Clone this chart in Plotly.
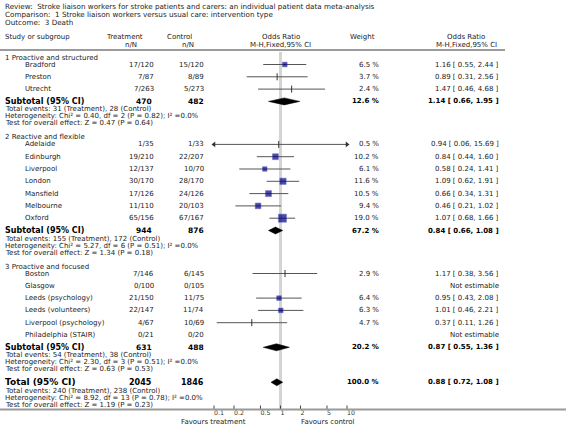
import math
import plotly.graph_objects as go

W, H = 566, 431

# ---------------- data ----------------
title_lines = [
    "Review:  Stroke liaison workers for stroke patients and carers: an individual patient data meta-analysis",
    "Comparison:  1 Stroke liaison workers versus usual care: intervention type",
    "Outcome:  3 Death",
]

group_names = ["1 Proactive and structured", "2 Reactive and flexible", "3 Proactive and focused"]

g1_studies = ["Bradford", "Preston", "Utrecht"]
g1_treat = ["17/120", "7/87", "7/263"]
g1_ctrl = ["15/120", "8/89", "5/273"]
g1_weight = [6.5, 3.7, 2.4]
g1_or = [1.16, 0.89, 1.47]
g1_lo = [0.55, 0.31, 0.46]
g1_hi = [2.44, 2.56, 4.68]

g2_studies = ["Adelaide", "Edinburgh", "Liverpool", "London", "Mansfield", "Melbourne", "Oxford"]
g2_treat = ["1/35", "19/210", "12/137", "30/170", "17/126", "11/110", "65/156"]
g2_ctrl = ["1/33", "22/207", "10/70", "28/170", "24/126", "20/103", "67/167"]
g2_weight = [0.5, 10.2, 6.1, 11.6, 10.5, 9.4, 19.0]
g2_or = [0.94, 0.84, 0.58, 1.09, 0.66, 0.46, 1.07]
g2_lo = [0.06, 0.44, 0.24, 0.62, 0.34, 0.21, 0.68]
g2_hi = [15.69, 1.60, 1.41, 1.91, 1.31, 1.02, 1.66]

g3_studies = ["Boston", "Glasgow", "Leeds (psychology)", "Leeds (volunteers)", "Liverpool (psychology)", "Philadelphia (STAIR)"]
g3_treat = ["7/146", "0/100", "21/150", "22/147", "4/67", "0/21"]
g3_ctrl = ["6/145", "0/105", "11/75", "11/74", "10/69", "0/20"]
g3_weight = [2.9, None, 6.4, 6.3, 4.7, None]
g3_or = [1.17, None, 0.95, 1.01, 0.37, None]
g3_lo = [0.38, None, 0.43, 0.46, 0.11, None]
g3_hi = [3.56, None, 2.08, 2.21, 1.26, None]

sub_n_treat = [470, 944, 631]
sub_n_ctrl = [482, 876, 488]
sub_weight = [12.6, 67.2, 20.2]
sub_or = [1.14, 0.84, 0.87]
sub_lo = [0.66, 0.66, 0.55]
sub_hi = [1.95, 1.08, 1.36]
sub_ev_treat = [31, 155, 54]
sub_ev_ctrl = [28, 172, 38]
sub_chi2 = [0.40, 5.27, 2.30]
sub_df = [2, 6, 3]
sub_p_het = [0.82, 0.51, 0.51]
sub_i2 = [0.0, 0.0, 0.0]
sub_z = [0.47, 1.34, 0.63]
sub_p_z = [0.64, 0.18, 0.53]

tot_n_treat = 2045
tot_n_ctrl = 1846
tot_weight = 100.0
tot_or = 0.88
tot_lo = 0.72
tot_hi = 1.08
tot_ev_treat = 240
tot_ev_ctrl = 238
tot_chi2 = 8.92
tot_df = 13
tot_p_het = 0.78
tot_i2 = 0.0
tot_z = 1.19
tot_p_z = 0.23

tick_vals = [0.1, 0.2, 0.5, 1, 2, 5, 10]
tick_text = ["0.1", "0.2", "0.5", "1", "2", "5", "10"]
left_label = "Favours treatment"
right_label = "Favours control"

# ---------------- layout helpers ----------------
FONT = "DejaVu Sans"
FS = 7
TXT = "#222222"
X_ONE = 280.5      # pixel of OR = 1
DECADE = 66.5      # pixels per decade
XMIN, XMAX = 0.1, 10

xr = [(0 - X_ONE) / DECADE, (W - X_ONE) / DECADE]

annotations = []


def txt(x, y, s, anchor="left", size=FS, bold=False, color=TXT):
    annotations.append(dict(
        x=x / W, y=y, xref="paper", yref="y", text=("<b>%s</b>" % s) if bold else s,
        showarrow=False, xanchor=anchor, yanchor="middle",
        font=dict(family=FONT, size=size, color=color), borderpad=0,
    ))


def fmt_ci(o, l, h):
    return "%.2f [ %.2f, %.2f ]" % (o, l, h)


# columns
X_LEFT = 4
X_STUDY = 24
X_TREAT = 155
X_CTRL = 205
X_W = 380
X_CI = 500

# title
for i, t in enumerate(title_lines):
    txt(X_LEFT, 6.5 + 8 * i, t, size=7.2)

# header
txt(X_LEFT, 37, "Study or subgroup")
txt(124, 37, "Treatment", "center")
txt(138, 45, "n/N", "right")
txt(179, 37, "Control", "center")
txt(195, 45, "n/N", "right")
txt(X_ONE, 37, "Odds Ratio", "center")
txt(X_ONE, 45, "M-H,Fixed,95% CI", "center")
txt(349, 37, "Weight", "left")
txt(466, 37, "Odds Ratio", "center")
txt(466, 45, "M-H,Fixed,95% CI", "center")

shapes = [
    dict(type="line", xref="paper", yref="y", x0=0, x1=505 / W, y0=50, y1=50,
         line=dict(color="#7a7a7a", width=1.5)),
    dict(type="line", xref="paper", yref="y", x0=0, x1=1, y0=409.5, y1=409.5,
         line=dict(color="#9a9a9a", width=2)),
]

groups = [
    (g1_studies, g1_treat, g1_ctrl, g1_weight, g1_or, g1_lo, g1_hi),
    (g2_studies, g2_treat, g2_ctrl, g2_weight, g2_or, g2_lo, g2_hi),
    (g3_studies, g3_treat, g3_ctrl, g3_weight, g3_or, g3_lo, g3_hi),
]

ci_x, ci_y = [], []
sq_x, sq_y, sq_s = [], [], []
tk_x, tk_y = [], []
al_x, al_y, ar_x, ar_y = [], [], [], []
diamonds = []

ROW = 12.3
y = 57.5
for gi, (names, tr, ct, wt, orv, lo, hi) in enumerate(groups):
    txt(X_LEFT, y, group_names[gi])
    y += 7
    for k in range(len(names)):
        if k > 0:
            y += ROW
        txt(X_STUDY, y, names[k])
        txt(X_TREAT, y, tr[k], "right")
        txt(X_CTRL, y, ct[k], "right")
        if orv[k] is None:
            txt(X_CI, y, "Not estimable", "right")
            continue
        txt(X_W, y, "%.1f %%" % wt[k], "right")
        txt(X_CI, y, fmt_ci(orv[k], lo[k], hi[k]), "right")
        l = max(lo[k], XMIN)
        h = min(hi[k], XMAX)
        ci_x += [l, h, None]
        ci_y += [y, y, None]
        if lo[k] < XMIN:
            al_x.append(XMIN); al_y.append(y)
        if hi[k] > XMAX:
            ar_x.append(XMAX); ar_y.append(y)
        if wt[k] >= 5:
            sq_x.append(orv[k]); sq_y.append(y); sq_s.append(1.85 * math.sqrt(wt[k]))
        else:
            tk_x.append(orv[k]); tk_y.append(y)
    y += 12.3
    txt(X_LEFT, y, "Subtotal (95% CI)", size=8, bold=True, color="#000")
    txt(X_TREAT - 2, y, str(sub_n_treat[gi]), "right", size=7.5, bold=True, color="#000")
    txt(X_CTRL, y, str(sub_n_ctrl[gi]), "right", size=7.5, bold=True, color="#000")
    txt(X_W, y, "%.1f %%" % sub_weight[gi], "right", size=7, bold=True, color="#000")
    txt(X_CI, y, fmt_ci(sub_or[gi], sub_lo[gi], sub_hi[gi]), "right", size=7, bold=True, color="#000")
    diamonds.append((sub_or[gi], sub_lo[gi], sub_hi[gi], y))
    y += 8
    txt(X_LEFT, y, "Total events: %d (Treatment), %d (Control)" % (sub_ev_treat[gi], sub_ev_ctrl[gi]))
    y += 7
    txt(X_LEFT, y, "Heterogeneity: Chi² = %.2f, df = %d (P = %.2f); I² =%.1f%%" %
        (sub_chi2[gi], sub_df[gi], sub_p_het[gi], sub_i2[gi]))
    y += 7
    txt(X_LEFT, y, "Test for overall effect: Z = %.2f (P = %.2f)" % (sub_z[gi], sub_p_z[gi]))
    y += 14

y -= 1
txt(X_LEFT, y, "Total (95% CI)", size=9, bold=True, color="#000")
txt(X_TREAT - 2, y, str(tot_n_treat), "right", size=8, bold=True, color="#000")
txt(X_CTRL, y, str(tot_n_ctrl), "right", size=8, bold=True, color="#000")
txt(X_W, y, "%.1f %%" % tot_weight, "right", size=7, bold=True, color="#000")
txt(X_CI, y, fmt_ci(tot_or, tot_lo, tot_hi), "right", size=7, bold=True, color="#000")
diamonds.append((tot_or, tot_lo, tot_hi, y))
y += 9
txt(X_LEFT, y, "Total events: %d (Treatment), %d (Control)" % (tot_ev_treat, tot_ev_ctrl))
y += 7
txt(X_LEFT, y, "Heterogeneity: Chi² = %.2f, df = %d (P = %.2f); I² =%.1f%%" %
    (tot_chi2, tot_df, tot_p_het, tot_i2))
y += 7
txt(X_LEFT, y, "Test for overall effect: Z = %.2f (P = %.2f)" % (tot_z, tot_p_z))

AXIS_Y = 409.5

traces = []
# reference line at OR = 1
traces.append(go.Scatter(x=[1, 1], y=[52, AXIS_Y], mode="lines",
                         line=dict(color="#d4d4d4", width=3), hoverinfo="skip"))
# CI lines
traces.append(go.Scatter(x=ci_x, y=ci_y, mode="lines", line=dict(color="#555555", width=1),
                         hoverinfo="skip"))
# arrows for truncated CIs
traces.append(go.Scatter(x=al_x, y=al_y, mode="markers",
                         marker=dict(symbol="triangle-left", size=5, color="#333"), hoverinfo="skip"))
traces.append(go.Scatter(x=ar_x, y=ar_y, mode="markers",
                         marker=dict(symbol="triangle-right", size=5, color="#333"), hoverinfo="skip"))
# small-weight ticks
traces.append(go.Scatter(x=tk_x, y=tk_y, mode="markers",
                         marker=dict(symbol="line-ns", size=5, line=dict(color="#333", width=1)),
                         hoverinfo="skip"))
# weight squares
traces.append(go.Scatter(x=sq_x, y=sq_y, mode="markers",
                         marker=dict(symbol="square", size=sq_s, color="#000080",
                                     line=dict(color="#2a2ab0", width=0.5)),
                         hoverinfo="skip"))
# diamonds
for o, l, h, yy in diamonds:
    dh = 3.5
    traces.append(go.Scatter(x=[l, o, h, o, l], y=[yy, yy - dh, yy, yy + dh, yy],
                             mode="lines", fill="toself", fillcolor="#000",
                             line=dict(color="#000", width=0.5), hoverinfo="skip"))
# axis ticks
tx, ty = [], []
for v in tick_vals:
    tx += [v, v, None]
    ty += [AXIS_Y - 4, AXIS_Y, None]
traces.append(go.Scatter(x=tx, y=ty, mode="lines", line=dict(color="#444", width=1), hoverinfo="skip"))
traces.append(go.Scatter(x=tick_vals, y=[AXIS_Y + 4] * len(tick_vals), mode="text",
                         text=tick_text, textposition="middle right",
                         textfont=dict(family=FONT, size=6.3, color="#333"), hoverinfo="skip"))

txt(247, AXIS_Y + 12, left_label, "right")
txt(300, AXIS_Y + 12, right_label, "left")

fig = go.Figure(traces)
fig.update_layout(
    width=W, height=H,
    margin=dict(l=0, r=0, t=0, b=0),
    paper_bgcolor="white", plot_bgcolor="white",
    showlegend=False,
    xaxis=dict(type="log", range=xr, visible=False, fixedrange=True),
    yaxis=dict(range=[H, 0], visible=False, fixedrange=True),
    annotations=annotations,
    shapes=shapes,
)
fig.write_html("out.html", config={"displayModeBar": False},
               post_script="document.body.style.margin='0';document.body.style.overflow='hidden';")
